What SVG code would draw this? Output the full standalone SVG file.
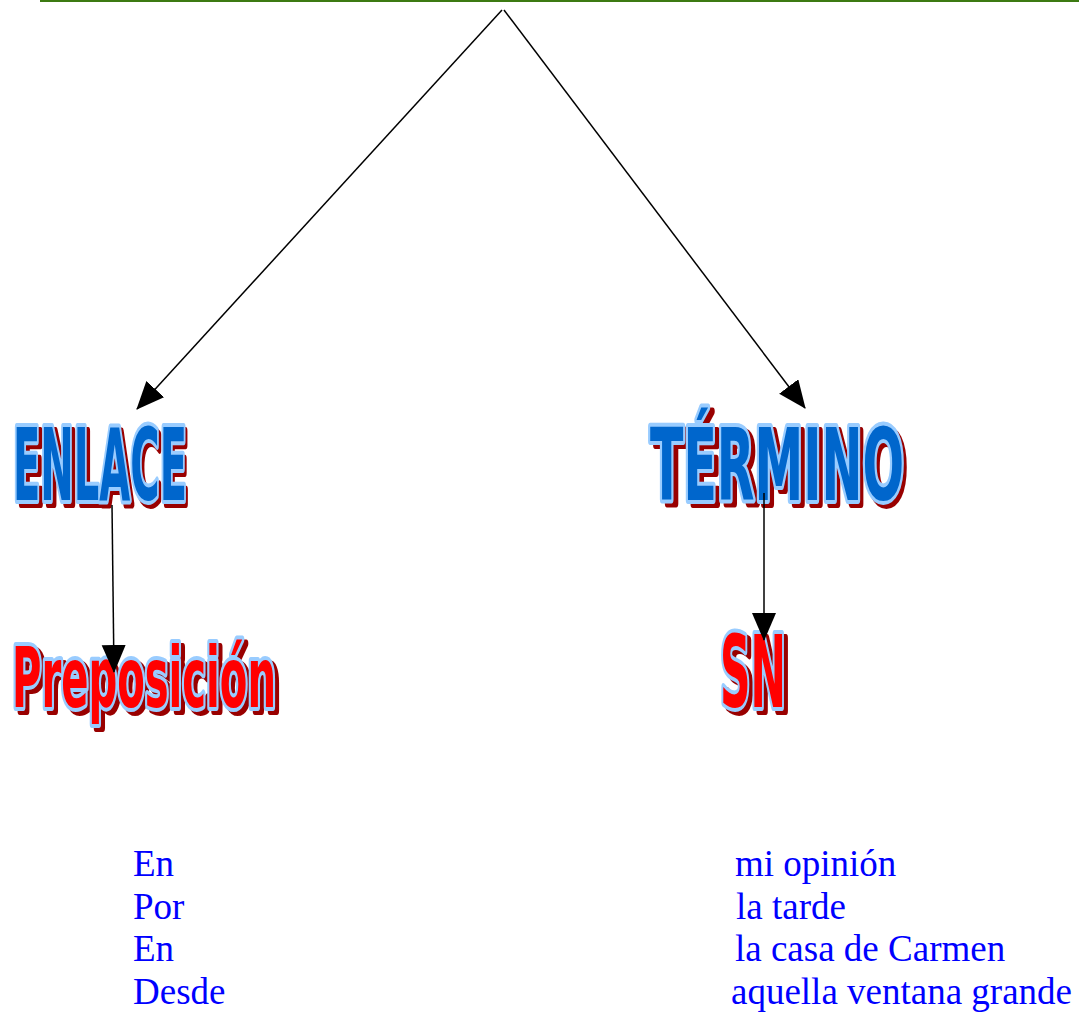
<svg xmlns="http://www.w3.org/2000/svg" width="1079" height="1012" viewBox="0 0 1079 1012">
<style>
.wa{font-family:"Liberation Sans Narrow","DejaVu Sans Condensed","Liberation Sans",sans-serif;font-weight:bold;}
.sh{stroke-width:8;stroke-linejoin:round;}
.blue{fill:#0066cc;stroke:#99ccff;stroke-width:8;stroke-linejoin:round;paint-order:stroke fill;}
.red{fill:#ff0000;stroke:#99ccff;stroke-width:8;stroke-linejoin:round;paint-order:stroke fill;}
.shb{fill:#990000;stroke:#990000;}
.t{font-family:"Liberation Serif","Times New Roman",serif;font-size:37px;fill:#0000ff;}
.c{stroke:#000;stroke-width:1.5;fill:none;marker-end:url(#ah);}
</style>
<defs>
<marker id="ah" markerUnits="userSpaceOnUse" markerWidth="30" markerHeight="26" refX="27" refY="12" orient="auto">
<path d="M0,0 L28,12 L0,24 z" fill="#000"/>
</marker>
</defs>
<rect width="1079" height="1012" fill="#fff"/>
<line x1="40" y1="1" x2="1079" y2="1" stroke="#3c7a12" stroke-width="2"/>
<g id="enlace">
<text class="wa sh shb" x="17" y="504" font-size="100" textLength="172" lengthAdjust="spacingAndGlyphs">ENLACE</text>
<text class="wa blue" x="13" y="500" font-size="100" textLength="174" lengthAdjust="spacingAndGlyphs">ENLACE</text>
</g>
<g id="termino">
<text class="wa sh shb" x="655" y="504" font-size="100" textLength="252" lengthAdjust="spacingAndGlyphs">TÉRMINO</text>
<text class="wa blue" x="650" y="500" font-size="100" textLength="254" lengthAdjust="spacingAndGlyphs">TÉRMINO</text>
</g>
<g id="preposicion">
<text class="wa sh shb" x="16" y="711" font-size="84" textLength="264" lengthAdjust="spacingAndGlyphs">Preposición</text>
<text class="wa red" x="12" y="707" font-size="84" textLength="264" lengthAdjust="spacingAndGlyphs">Preposición</text>
</g>
<g id="sn">
<text class="wa sh shb" x="724" y="711" font-size="100" textLength="66" lengthAdjust="spacingAndGlyphs">SN</text>
<text class="wa red" x="720" y="707" font-size="100" textLength="66" lengthAdjust="spacingAndGlyphs">SN</text>
</g>
<g id="connectors">
<line class="c" x1="502" y1="10" x2="137" y2="409"/>
<line class="c" x1="504" y1="10" x2="805" y2="408"/>
<line class="c" x1="112" y1="505" x2="114" y2="672"/>
<line class="c" x1="764" y1="493" x2="764" y2="640"/>
</g>
<g id="left-list">
<text class="t" x="133" y="876">En</text>
<text class="t" x="133" y="919">Por</text>
<text class="t" x="133" y="961">En</text>
<text class="t" x="133" y="1004">Desde</text>
</g>
<g id="right-list">
<text class="t" x="735" y="876">mi opinión</text>
<text class="t" x="736" y="919">la tarde</text>
<text class="t" x="735" y="961">la casa de Carmen</text>
<text class="t" x="731" y="1004">aquella ventana grande</text>
</g>
</svg>
